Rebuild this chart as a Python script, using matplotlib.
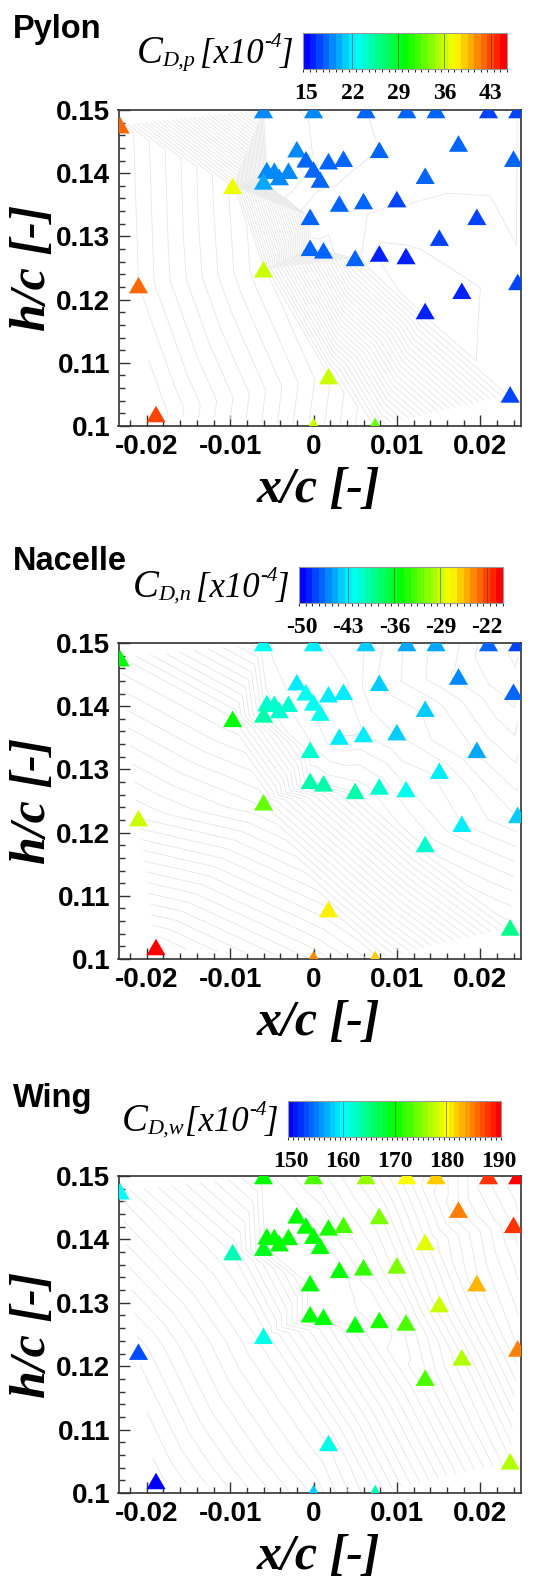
"""Drag coefficient maps of pylon, nacelle and wing over the nacelle position
grid (x/c, h/c), with light iso-lines interpolated from the measured points."""
import matplotlib
matplotlib.use("Agg")
import matplotlib.pyplot as plt
import matplotlib.tri as mtri
import numpy as np
from matplotlib.colors import LinearSegmentedColormap, BoundaryNorm
from matplotlib.ticker import MultipleLocator, FuncFormatter

# nacelle positions (same grid in every panel)
x_c = [-0.0232, -0.0060, 0.0000, 0.0063, 0.0112, 0.0147, 0.0210, 0.0245,
       -0.0020, -0.0009, 0.0018, 0.0036, 0.0079, 0.0174, 0.0240,
       -0.0056, -0.0047, -0.0030, -0.0041, -0.0060, 0.0000, 0.0008,
       -0.0097, 0.0134, 0.0031, 0.0060, 0.0100, -0.0004, 0.0196, 0.0151,
       -0.0004, 0.0012, 0.0050, 0.0079, 0.0111, -0.0060, -0.0210, 0.0245,
       0.0178, 0.0134, 0.0018, 0.0236, -0.0189, 0.0000, 0.0074]
h_c = [0.1476, 0.1500, 0.1500, 0.1500, 0.1500, 0.1500, 0.1500, 0.1500,
       0.1438, 0.1422, 0.1419, 0.1423, 0.1437, 0.1447, 0.1423,
       0.1405, 0.1404, 0.1404, 0.1394, 0.1387, 0.1406, 0.1390,
       0.1380, 0.1396, 0.1352, 0.1356, 0.1359, 0.1331, 0.1331, 0.1298,
       0.1282, 0.1278, 0.1266, 0.1273, 0.1269, 0.1248, 0.1223, 0.1228,
       0.1214, 0.1182, 0.1079, 0.1050, 0.1019, 0.1000, 0.1000]

# drag coefficients [x1e-4]
cd_pylon = [42.4, 19.2, 18.5, 18.0, 17.6, 17.6, 17.4, 17.2,
            19.2, 18.2, 18.2, 18.2, 18.0, 17.5, 18.0,
            19.4, 19.4, 19.2, 19.4, 19.6, 18.2, 18.2,
            37.4, 17.6, 17.6, 17.6, 17.4, 17.6, 16.9, 16.9,
            18.2, 18.2, 17.6, 16.4, 16.4, 36.3, 41.8, 17.0,
            16.4, 16.0, 35.6, 17.0, 43.0, 36.0, 33.2]
cd_nacelle = [-35.0, -42.0, -42.6, -43.6, -45.0, -45.4, -47.4, -48.0,
              -42.6, -42.4, -42.6, -42.6, -44.3, -46.5, -47.4,
              -41.2, -41.2, -41.2, -41.0, -40.2, -42.4, -42.4,
              -35.0, -44.3, -42.8, -42.8, -43.6, -41.2, -45.0, -43.0,
              -40.2, -40.2, -40.2, -41.0, -42.0, -31.8, -28.8, -44.3,
              -42.8, -41.0, -27.3, -39.0, -20.4, -24.0, -26.3]
cd_wing = [159.8, 170.0, 172.5, 176.3, 180.3, 182.3, 187.6, 189.5,
           170.0, 170.0, 170.8, 172.5, 175.3, 184.5, 187.6,
           170.0, 170.0, 170.0, 170.0, 169.3, 170.0, 170.0,
           162.6, 179.4, 170.0, 172.0, 175.0, 170.0, 183.3, 178.2,
           170.0, 170.0, 170.0, 170.8, 172.8, 161.0, 152.8, 184.5,
           177.4, 173.3, 160.6, 177.4, 150.0, 157.7, 162.6]

x_ticks = [-0.02, -0.01, 0.0, 0.01, 0.02]
y_ticks = [0.10, 0.11, 0.12, 0.13, 0.14, 0.15]

names = ["Pylon", "Nacelle", "Wing"]
cbar_subs = ["D,p", "D,n", "D,w"]
cbar_ticks = [[15, 22, 29, 36, 43], [-50, -43, -36, -29, -22],
              [150, 160, 170, 180, 190]]
cbar_ranges = [(14.5, 45.5), (-50.5, -19.5), (149.5, 190.5)]
iso_step = [0.7, 0.7, 1.0]

plt.rcParams["axes.unicode_minus"] = False

W, H = 535, 1576
fig = plt.figure(figsize=(W / 100, H / 100), dpi=100)


def rect(l, t, r, b):
    return [l / W, 1 - b / H, (r - l) / W, (b - t) / H]


def ptext(x, y, s, **kw):
    # text placed in pixel coordinates from the top-left corner
    return fig.text(x / W, 1 - y / H, s, **kw)


cmap = LinearSegmentedColormap.from_list(
    "small_rainbow", ["#0000ff", "#00ffff", "#00ff00", "#ffff00", "#ff0000"])
tri_marker = [(-1, -0.866), (1, -0.866), (0, 0.866)]

ax_tops = [110, 643, 1176]
ax_bots = [426, 959, 1493]
cb_rects = [(303, 33, 507, 69), (299, 567, 503, 603), (288, 1101, 501, 1137)]
title_base = [38, 570, 1107]

tri = mtri.Triangulation(x_c, h_c)
fmt = FuncFormatter(lambda v, p: "0" if abs(v) < 1e-9 else f"{round(v, 3):g}")
serif_it = dict(family="Liberation Serif", fontstyle="italic", va="baseline",
                ha="left")

for i, (name, cd) in enumerate(zip(names, [cd_pylon, cd_nacelle, cd_wing])):
    vmin, vmax = cbar_ranges[i]
    bounds = np.arange(vmin, vmax + 0.01, 1.0)
    norm = BoundaryNorm(bounds, cmap.N)

    ax = fig.add_axes(rect(118.5, ax_tops[i], 521, ax_bots[i]))
    ax.tricontour(tri, cd, levels=np.arange(vmin, vmax, iso_step[i]),
                  colors="#e6e6e6", linewidths=0.6, linestyles="solid")
    sc = ax.scatter(x_c, h_c, c=cd, cmap=cmap, norm=norm, marker=tri_marker,
                    s=190, linewidths=0, zorder=3)
    ax.set_xlim(-0.0234, 0.0249)
    ax.set_ylim(0.1, 0.15)
    ax.set_xticks(x_ticks)
    ax.set_yticks(y_ticks)
    ax.xaxis.set_minor_locator(MultipleLocator(0.002))
    ax.yaxis.set_minor_locator(MultipleLocator(0.002))
    ax.xaxis.set_major_formatter(fmt)
    ax.yaxis.set_major_formatter(fmt)
    ax.tick_params(which="both", direction="in", top=False, right=False,
                   color="#333333", width=1)
    ax.tick_params(which="major", length=8, pad=6)
    ax.tick_params(which="minor", length=4)
    for lab in ax.get_xticklabels() + ax.get_yticklabels():
        lab.set_fontfamily("Liberation Sans")
        lab.set_fontweight("bold")
        lab.set_fontsize(20)
    for sp in ax.spines.values():
        sp.set_color("#333333")
        sp.set_linewidth(1.2)

    ptext(318, ax_bots[i] + 64, "x/c [-]", ha="center", va="center",
          fontsize=36, fontweight="bold", fontstyle="italic",
          family="Liberation Serif")
    ptext(33, (ax_tops[i] + ax_bots[i]) / 2, "h/c [-]", ha="center",
          va="center", rotation=90, fontsize=36, fontweight="bold",
          fontstyle="italic", family="Liberation Serif")

    ptext(13, title_base[i], name, ha="left", va="baseline",
          fontsize=23.5, fontweight="bold", family="Liberation Sans")

    l, t, r, b = cb_rects[i]
    cax = fig.add_axes(rect(l, t, r, b))
    cb = fig.colorbar(sc, cax=cax, orientation="horizontal",
                      ticks=cbar_ticks[i])
    cb.outline.set_edgecolor("#999999")
    cb.outline.set_linewidth(0.8)
    for tv in cbar_ticks[i][1:-1] if i == 2 else cbar_ticks[i][1:]:
        cax.axvline(tv, color="#333333", lw=0.6, alpha=0.6)
    cax.tick_params(length=0, pad=10)
    for lab in cax.get_xticklabels():
        lab.set_fontfamily("Liberation Serif")
        lab.set_fontweight("bold")
        lab.set_fontsize(17)

    # colour bar title, built in pieces: C_{D,x} [x10^-4]
    ptext(l - 166, b - 6, "C", fontsize=28, **serif_it)
    ptext(l - 141, b - 3, cbar_subs[i], fontsize=16, **serif_it)
    ptext(l - 103, b - 6, "[x10", fontsize=25, **serif_it)
    ptext(l - 39, b - 22, "-4", fontsize=15, **serif_it)
    ptext(l - 23, b - 6, "]", fontsize=25, **serif_it)

fig.savefig("out.png", dpi=100)
